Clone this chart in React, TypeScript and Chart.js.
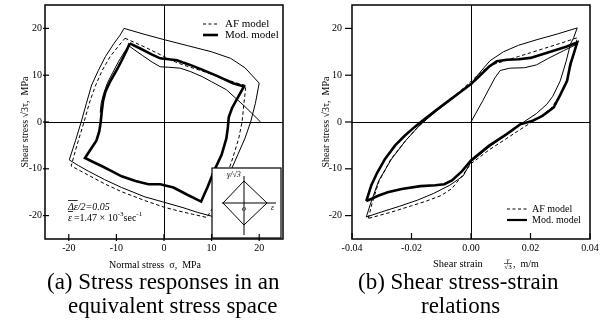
import React, { useEffect, useRef } from "react";
import { Chart, registerables } from "chart.js";

Chart.register(...registerables);

const SERIF = "'Liberation Serif', 'Times New Roman', serif";

// ---------------- (a) stress space: normal stress sigma vs sqrt(3) tau ----------------
const aTicks = [-20, -10, 0, 10, 20];

// thin outer loop
const aOuterSigma = [-8.4, -4, 0, 5, 10, 14, 17, 19, 20, 19.2, 18.2, 17, 15.5, 14.2, 12.8, 11.5, 10.3, 7, 4, 0.2, -4, -8.9, -12.5, -15.9, -18, -19.9, -18.6, -17.4, -16.3, -15.2, -13.8, -12.3, -10.5, -9.2, -8.4];
const aOuterTau = [20, 18.7, 17.6, 16.3, 15, 13.6, 11.6, 9.4, 8.3, 4, 0, -3.5, -7, -10, -13.5, -17, -20.2, -19.3, -18.3, -17.2, -16, -14, -12.3, -10.5, -9.3, -8.1, -4, 0, 4, 7.9, 11, 14, 16.8, 18.6, 20];

// AF model (dashed)
const aAfSigma = [-8.2, -4, 0, 2, 4, 8, 12, 15, 17.2, 16.8, 16.4, 15.7, 14.5, 13.2, 11.8, 10.3, 9, 6, 3, 0, -4, -8.9, -12.5, -16, -19.5, -18.3, -16.8, -15.7, -14.5, -13, -11.3, -9.5, -8.2];
const aAfTau = [17.9, 16, 14, 13, 12.2, 10.9, 9.5, 8.4, 7.8, 4, 0, -3.5, -7.5, -11.5, -15, -18.3, -20.4, -19.7, -19, -18.2, -16.8, -14.9, -13.2, -11.3, -9.4, -5, 0, 4, 7.5, 11, 14, 16.3, 17.9];

// Mod. model (thick)
const aModSigma = [-7.2, -5, -2.5, -0.8, 1, 2.7, 4, 5.5, 8, 11, 14.5, 16.8, 15.5, 14.3, 13.6, 13.4, 13.1, 12.1, 10.5, 9.2, 7.8, 5, 2, -0.8, -3.3, -6, -8.9, -11, -13.1, -15, -16.6, -15.5, -14.2, -13.6, -13.3, -13.1, -12.8, -12.3, -11.3, -10, -8.8, -7.9, -7.2];
const aModTau = [16.8, 15.7, 14.4, 13.6, 13.4, 13.2, 12.7, 12.2, 11.2, 9.9, 8.3, 7.6, 5.2, 3, 1, -1.3, -3.5, -7, -10.5, -13.8, -17, -15.6, -14, -13.3, -13.3, -12.6, -11.6, -10.5, -9.4, -8.5, -7.7, -6, -4, -2, 0, 2, 4.5, 6.5, 8.7, 11, 13.3, 15.2, 16.8];

// initial loading path (thin)
const aInitSigma = [20.3, 17, 13.1, 10, 8, 5.5, 3.4, 1, -0.8, -2.5, -4.5, -6.2, -7.4, -8.3, -9.5, -10.8, -11.9, -12.7, -13.2, -13.4];
const aInitTau = [0, 3.3, 6.9, 8.6, 9.7, 10.8, 11.5, 11.7, 11.8, 12.8, 14.2, 15.4, 16.3, 15, 13, 10.5, 8.3, 6, 4, 2];

// ---------------- (b) shear stress vs shear strain ----------------
const bXTicks = [-0.04, -0.02, 0, 0.02, 0.04];
const bYTicks = [-20, -10, 0, 10, 20];

const bOuterStrain = [-0.0352, -0.0338, -0.031, -0.0267, -0.022, -0.018, -0.016, -0.012, -0.008, -0.004, 0, 0.003, 0.0064, 0.0109, 0.016, 0.0222, 0.029, 0.0357, 0.0345, 0.0334, 0.032, 0.03, 0.0275, 0.0255, 0.022, 0.0177, 0.012, 0.006, 0, -0.0026, -0.0071, -0.0127, -0.018, -0.024, -0.03, -0.0352];
const bOuterTau = [-20.3, -17.5, -12.5, -7.9, -4, -1.2, 0, 2.1, 4.1, 6.1, 8.2, 10.6, 13.1, 15, 16.4, 17.6, 18.8, 20.1, 18, 16.6, 13, 8.8, 5.5, 3.8, 1.8, 0, -2.6, -5.4, -8.5, -11.5, -13.5, -15.3, -16.7, -18, -19.2, -20.3];

const bModStrain = [-0.0352, -0.0335, -0.0315, -0.0289, -0.0255, -0.0222, -0.019, -0.016, -0.012, -0.008, -0.004, 0, 0.003, 0.006, 0.0087, 0.012, 0.016, 0.02, 0.024, 0.028, 0.032, 0.0357, 0.0345, 0.0334, 0.0323, 0.03, 0.0278, 0.024, 0.0205, 0.0165, 0.012, 0.006, 0, -0.003, -0.0064, -0.009, -0.012, -0.017, -0.0233, -0.028, -0.031, -0.0352];
const bModTau = [-16.9, -13.5, -10.8, -7.9, -5, -2.9, -1.1, 0.4, 2.4, 4.3, 6.2, 8.1, 9.9, 11.8, 13, 13.3, 13.4, 13.7, 14.5, 15.3, 16.1, 17, 14.5, 12.3, 8.8, 5.8, 3.1, 1.3, 0.2, -0.5, -2.6, -5.1, -8.2, -10.5, -12.5, -13.3, -13.5, -13.7, -14.3, -15, -15.7, -16.9];

const bAfStrain = [-0.0345, -0.0333, -0.031, -0.027, -0.022, -0.018, -0.016, -0.012, -0.008, -0.004, 0, 0.004, 0.008, 0.012, 0.016, 0.02, 0.025, 0.03, 0.0357, 0.0348, 0.0335, 0.032, 0.03, 0.027, 0.023, 0.0185, 0.012, 0.006, 0, -0.003, -0.0064, -0.01, -0.015, -0.02, -0.027, -0.0345];
const bAfTau = [-20.6, -17.5, -12.8, -8, -4, -1.2, 0, 2.3, 4.4, 6.4, 8.7, 11, 12.4, 13.2, 14, 14.8, 15.8, 16.8, 18, 15, 12, 8.5, 5.8, 3, 1, -0.8, -3.5, -6, -8.9, -11.5, -14.2, -15.7, -16.9, -17.9, -19.3, -20.6];

const bInitStrain = [0, 0.004, 0.008, 0.0098, 0.013, 0.018, 0.022, 0.026, 0.031, 0.0355];
const bInitTau = [0, 4.6, 9.4, 11, 11.5, 11.6, 12.2, 13.6, 15.2, 16.6];

const pts = (xs: number[], ys: number[]) => xs.map((x, i) => ({ x, y: ys[i] }));

const thin = (data: any) => ({ data, borderColor: "#000", borderWidth: 1, pointRadius: 0, showLine: true, fill: false, tension: 0 });
const thick = (data: any) => ({ data, borderColor: "#000", borderWidth: 2.6, pointRadius: 0, showLine: true, fill: false, tension: 0 });
const dashed = (data: any) => ({ data, borderColor: "#000", borderWidth: 1, borderDash: [3.5, 2.5], pointRadius: 0, showLine: true, fill: false, tension: 0 });

const zeroColor = (c: any) => (c.tick && c.tick.value === 0 ? "#000" : "rgba(0,0,0,0)");

function line(ctx: CanvasRenderingContext2D, x1: number, y1: number, x2: number, y2: number) {
  ctx.beginPath();
  ctx.moveTo(x1, y1);
  ctx.lineTo(x2, y2);
  ctx.stroke();
}

function makeScales(
  xMin: number, xMax: number, xTicks: number[], yTicks: number[],
  yWidth: number, yPad: number, titlePad: number, fmt: (v: number) => string
) {
  return {
    x: {
      type: "linear" as const,
      min: xMin,
      max: xMax,
      afterBuildTicks: (s: any) => { s.ticks = xTicks.map((v) => ({ value: v })); },
      afterFit: (s: any) => { s.height = 31; s.paddingLeft = 0; s.paddingRight = 0; },
      grid: { color: zeroColor, lineWidth: 1, drawTicks: false },
      border: { display: false },
      ticks: { font: { family: SERIF, size: 10 }, color: "#000", padding: 3, maxRotation: 0, autoSkip: false, callback: (v: any) => fmt(Number(v)) },
    },
    y: {
      type: "linear" as const,
      min: -25,
      max: 25,
      afterBuildTicks: (s: any) => { s.ticks = yTicks.map((v) => ({ value: v })); },
      afterFit: (s: any) => { s.width = yWidth; s.paddingTop = 0; s.paddingBottom = 0; },
      grid: { color: zeroColor, lineWidth: 1, drawTicks: false },
      border: { display: false },
      ticks: { font: { family: SERIF, size: 10 }, color: "#000", padding: yPad, autoSkip: false, callback: (v: any) => String(v) },
      title: { display: true, text: "Shear stress \u221A3\u03C4,  MPa", font: { family: SERIF, size: 10 }, color: "#000", padding: { top: titlePad, bottom: 0 } },
    },
  };
}

const decorA = {
  id: "decorA",
  afterDraw(chart: any) {
    const ctx: CanvasRenderingContext2D = chart.ctx;
    const ca = chart.chartArea;
    const xs = chart.scales.x;
    const ys = chart.scales.y;
    ctx.save();
    ctx.strokeStyle = "#000";
    ctx.fillStyle = "#000";

    // inset sketch of the strain path
    const ix = ca.left + 167, iy = ca.top + 163;
    const iw = ca.right - 2 - ix, ih = ca.bottom - 1 - iy;
    ctx.fillStyle = "#fff";
    ctx.fillRect(ix, iy, iw, ih);
    ctx.fillStyle = "#000";
    ctx.lineWidth = 1.2;
    ctx.strokeRect(ix, iy, iw, ih);
    const cx = ix + 32, cy = iy + 35;
    ctx.lineWidth = 1;
    line(ctx, cx, iy + 8, cx, iy + 67);
    line(ctx, ix + 10, cy, ix + 64, cy);
    ctx.beginPath();
    ctx.moveTo(cx, cy - 22);
    ctx.lineTo(cx + 23, cy);
    ctx.lineTo(cx, cy + 22);
    ctx.lineTo(cx - 21, cy);
    ctx.closePath();
    ctx.stroke();
    ctx.font = `italic 8px ${SERIF}`;
    ctx.textBaseline = "middle";
    ctx.textAlign = "left";
    ctx.fillText("\u03B3/\u221A3", cx - 17, iy + 7);
    ctx.fillText("\u03B5", cx + 27, cy + 5);
    ctx.fillText("o", cx - 2, cy + 6);

    // frame
    ctx.lineWidth = 1.5;
    ctx.strokeRect(ca.left, ca.top, ca.right - ca.left, ca.bottom - ca.top);

    // ticks
    ctx.lineWidth = 1.2;
    for (const v of aTicks) {
      const px = xs.getPixelForValue(v);
      line(ctx, px, ca.bottom + 2, px, ca.bottom - 5);
      const py = ys.getPixelForValue(v);
      line(ctx, ca.left - 2, py, ca.left + 4, py);
    }

    // legend
    ctx.lineWidth = 1;
    ctx.setLineDash([3, 2.5]);
    line(ctx, 203, 24, 218, 24);
    ctx.setLineDash([]);
    ctx.lineWidth = 2.6;
    line(ctx, 203, 35, 218, 35);
    ctx.font = `11px ${SERIF}`;
    ctx.textAlign = "left";
    ctx.textBaseline = "middle";
    ctx.fillText("AF model", 225, 24);
    ctx.fillText("Mod. model", 225, 35);

    // annotations
    ctx.font = `italic 10px ${SERIF}`;
    const t1 = "\u0394\u03B5";
    ctx.fillText(t1 + "/2=0.05", 68, 207);
    const w1 = ctx.measureText(t1).width;
    ctx.lineWidth = 0.8;
    line(ctx, 68, 200.5, 68 + w1, 200.5);
    ctx.fillText("\u03B5", 68, 218);
    const we = ctx.measureText("\u03B5").width;
    line(ctx, 68, 211.5, 68 + we + 1, 211.5);
    let xx = 68 + we + 2;
    ctx.font = `10px ${SERIF}`;
    const p2 = "=1.47 \u00D7 10";
    ctx.fillText(p2, xx, 218);
    xx += ctx.measureText(p2).width;
    ctx.font = `7px ${SERIF}`;
    ctx.fillText("-3", xx, 214);
    xx += ctx.measureText("-3").width;
    ctx.font = `10px ${SERIF}`;
    ctx.fillText("sec", xx, 218);
    xx += ctx.measureText("sec").width;
    ctx.font = `7px ${SERIF}`;
    ctx.fillText("-1", xx, 214);

    // x title
    ctx.font = `10px ${SERIF}`;
    ctx.textAlign = "center";
    ctx.fillText("Normal stress  \u03C3,  MPa", 155, 265);
    ctx.restore();
  },
};

const decorB = {
  id: "decorB",
  afterDraw(chart: any) {
    const ctx: CanvasRenderingContext2D = chart.ctx;
    const ca = chart.chartArea;
    const xs = chart.scales.x;
    const ys = chart.scales.y;
    ctx.save();
    ctx.strokeStyle = "#000";
    ctx.fillStyle = "#000";
    ctx.lineWidth = 1.5;
    ctx.strokeRect(ca.left, ca.top, ca.right - ca.left, ca.bottom - ca.top);

    ctx.lineWidth = 1.2;
    for (const v of bXTicks) {
      const px = xs.getPixelForValue(v);
      line(ctx, px, ca.bottom, px, ca.bottom - 6);
    }
    for (const v of bYTicks) {
      const py = ys.getPixelForValue(v);
      line(ctx, ca.left - 7, py, ca.left, py);
    }

    // legend
    ctx.lineWidth = 1;
    ctx.setLineDash([3, 2.5]);
    line(ctx, 207, 209, 227, 209);
    ctx.setLineDash([]);
    ctx.lineWidth = 2.2;
    line(ctx, 207, 220, 227, 220);
    ctx.font = `10px ${SERIF}`;
    ctx.textAlign = "left";
    ctx.textBaseline = "middle";
    ctx.fillText("AF model", 232, 209);
    ctx.fillText("Mod. model", 232, 220);

    // x title with stacked fraction
    ctx.font = `10.5px ${SERIF}`;
    ctx.fillText("Shear strain", 133, 264);
    const fx = 208;
    ctx.font = `italic 7px ${SERIF}`;
    ctx.textAlign = "center";
    ctx.fillText("\u03B3", fx, 260);
    ctx.lineWidth = 0.6;
    line(ctx, fx - 4, 263.5, fx + 4, 263.5);
    ctx.font = `7px ${SERIF}`;
    ctx.fillText("\u221A3", fx, 267.5);
    ctx.textAlign = "left";
    ctx.font = `10px ${SERIF}`;
    ctx.fillText(",  m/m", fx + 5, 264);
    ctx.restore();
  },
};

export default function App() {
  const refA = useRef<HTMLCanvasElement | null>(null);
  const refB = useRef<HTMLCanvasElement | null>(null);

  useEffect(() => {
    const common = {
      animation: false as const,
      responsive: false,
      maintainAspectRatio: false,
      devicePixelRatio: 1,
      events: [] as any[],
      plugins: { legend: { display: false }, tooltip: { enabled: false } },
    };
    const chartA = new Chart(refA.current as HTMLCanvasElement, {
      type: "scatter",
      data: {
        datasets: [
          thin(pts(aOuterSigma, aOuterTau)),
          dashed(pts(aAfSigma, aAfTau)),
          thin(pts(aInitSigma, aInitTau)),
          thick(pts(aModSigma, aModTau)),
        ] as any,
      },
      options: {
        ...common,
        layout: { padding: { left: 0, top: 5, right: 17, bottom: 0 } },
        scales: makeScales(-25, 25, aTicks, aTicks, 45, 3, 19, (v) => String(v)) as any,
      },
      plugins: [decorA],
    });
    const chartB = new Chart(refB.current as HTMLCanvasElement, {
      type: "scatter",
      data: {
        datasets: [
          thin(pts(bOuterStrain, bOuterTau)),
          dashed(pts(bAfStrain, bAfTau)),
          thin(pts(bInitStrain, bInitTau)),
          thick(pts(bModStrain, bModTau)),
        ] as any,
      },
      options: {
        ...common,
        layout: { padding: { left: 0, top: 5, right: 19, bottom: 0 } },
        scales: makeScales(-0.04, 0.04, bXTicks, bYTicks, 52, 10, 20, (v) => v.toFixed(2)) as any,
      },
      plugins: [decorB],
    });
    return () => {
      chartA.destroy();
      chartB.destroy();
    };
  }, []);

  const cap: React.CSSProperties = {
    position: "absolute",
    fontFamily: SERIF,
    fontSize: "23px",
    lineHeight: "24px",
    color: "#000",
    whiteSpace: "nowrap",
  };

  return (
    <div style={{ position: "absolute", left: 0, top: 0, width: 609, height: 333, background: "#fff", overflow: "hidden" }}>
      <canvas ref={refA} width={300} height={270} style={{ position: "absolute", left: 0, top: 0, width: 300, height: 270 }} />
      <canvas ref={refB} width={309} height={270} style={{ position: "absolute", left: 300, top: 0, width: 309, height: 270 }} />
      <div style={{ ...cap, left: 47, top: 270 }}>(a) Stress responses in an</div>
      <div style={{ ...cap, left: 68, top: 294 }}>equivalent stress space</div>
      <div style={{ ...cap, left: 358, top: 270 }}>(b) Shear stress-strain</div>
      <div style={{ ...cap, left: 421, top: 294 }}>relations</div>
    </div>
  );
}
